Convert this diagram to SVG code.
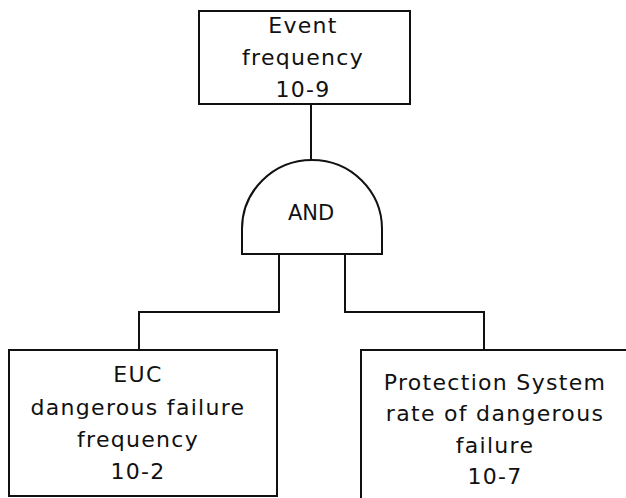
<svg xmlns="http://www.w3.org/2000/svg" width="626" height="498" viewBox="0 0 626 498">
<style>
.box{fill:#fff;stroke:#111;stroke-width:2}
.ln{fill:none;stroke:#111;stroke-width:2}
text{font-family:"DejaVu Sans","Liberation Sans",sans-serif;font-size:22px;fill:#111;text-anchor:middle;letter-spacing:1.3px}
.g{font-size:21px;letter-spacing:0}
</style>
<rect width="626" height="498" fill="#fff"/>
<g id="connectors">
<path class="ln" d="M311,104 V160"/>
<path class="ln" d="M279,254 V312 H139 V350"/>
<path class="ln" d="M345,254 V312 H484 V350"/>
</g>
<g id="event">
<rect class="box" x="199" y="11" width="211" height="93"/>
<text x="303" y="33">Event</text>
<text x="303" y="65">frequency</text>
<text x="303" y="97">10-9</text>
</g>
<g id="and-gate">
<path class="box" d="M242,254 V229 A70,69 0 0 1 382,229 V254 Z"/>
<text class="g" x="311" y="220">AND</text>
</g>
<g id="euc">
<rect class="box" x="9" y="350" width="268" height="146"/>
<text x="138" y="382">EUC</text>
<text x="138" y="415">dangerous failure</text>
<text x="138" y="447">frequency</text>
<text x="138" y="479">10-2</text>
</g>
<g id="protection">
<rect class="box" x="361" y="350" width="272" height="160"/>
<text x="495" y="390">Protection System</text>
<text x="495" y="421">rate of dangerous</text>
<text x="495" y="453">failure</text>
<text x="495" y="484">10-7</text>
</g>
</svg>
